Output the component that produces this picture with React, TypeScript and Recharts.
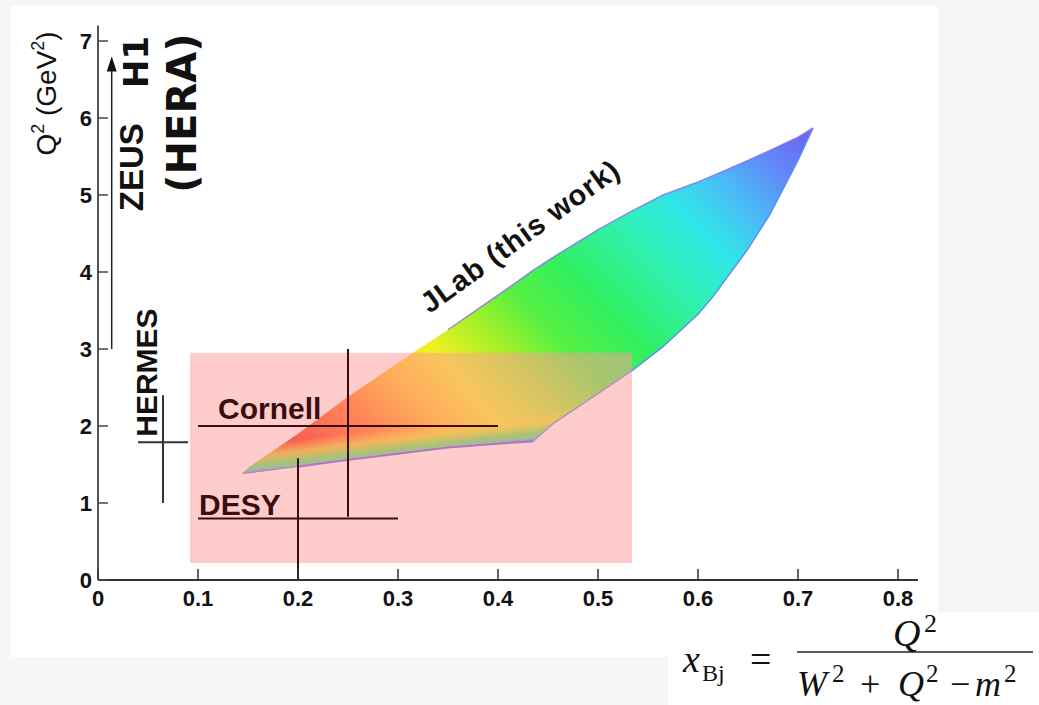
import React from "react";
import {
  ComposedChart,
  Area,
  Line,
  XAxis,
  YAxis,
  ReferenceArea,
  ReferenceLine,
  ReferenceDot,
} from "recharts";

// JLab coverage envelope (x_Bj vs Q^2 upper / lower edge)
const xBj = [0.144, 0.152, 0.2, 0.25, 0.3, 0.35, 0.4, 0.435, 0.455, 0.5, 0.535, 0.565, 0.6, 0.615, 0.65, 0.672, 0.7, 0.715];
const q2Upper = [1.38, 1.47, 1.9, 2.38, 2.82, 3.25, 3.7, 4.02, 4.19, 4.55, 4.8, 5.0, 5.17, 5.25, 5.45, 5.58, 5.75, 5.87];
const q2Lower = [1.38, 1.39, 1.47, 1.56, 1.64, 1.72, 1.77, 1.8, 2.03, 2.42, 2.73, 3.03, 3.45, 3.68, 4.3, 4.75, 5.45, 5.87];

const xTicks = [0, 0.1, 0.2, 0.3, 0.4, 0.5, 0.6, 0.7, 0.8];
const yTicks = [0, 1, 2, 3, 4, 5, 6, 7];

// older experiments: crosshair centre and extent
const expNames = ["Cornell", "DESY", "HERMES"];
const expX = [0.25, 0.2, 0.065];
const expXRange = [[0.1, 0.4], [0.1, 0.3], [0.04, 0.09]];
const expQ2 = [2.0, 0.8, 1.79];
const expQ2Range = [[0.82, 3.0], [0, 1.58], [1.0, 2.4]];

// HERA arrow (ZEUS, H1)
const heraX = 0.0137;
const heraQ2 = [3.0, 6.8];

// shaded box
const boxX = [0.092, 0.534];
const boxQ2 = [0.22, 2.95];

const rows = xBj.map((x, i) => ({
  x,
  cover: [q2Lower[i], q2Upper[i]],
  lowEdge: x >= 0.17 && x <= 0.435 ? q2Lower[i] : null,
  rightEdge: x >= 0.435 ? q2Lower[i] : null,
  topEdge: x >= 0.33 ? q2Upper[i] : null,
}));

const SANS = "'Liberation Sans', Arial, sans-serif";
const DARK = "#3a0e0e";

const XTick = (props: any) => {
  const { x, y, payload } = props;
  return (
    <g>
      <line x1={x} x2={x} y1={y - 9} y2={y - 20} stroke="#333" strokeWidth={1.5} />
      <text x={x} y={y} dy={17} textAnchor="middle" fontFamily={SANS} fontWeight="bold" fontSize={22} fill="#111">
        {payload.value}
      </text>
    </g>
  );
};

const YTick = (props: any) => {
  const { x, y, payload } = props;
  return (
    <g>
      <line x1={x + 6} x2={x + 16} y1={y} y2={y} stroke="#444" strokeWidth={1.5} />
      <text x={x} y={y} dy={8} textAnchor="end" fontFamily={SANS} fontWeight="bold" fontSize={22} fill="#111">
        {payload.value}
      </text>
    </g>
  );
};

const QLabel = (props: any) => {
  const vb = props.viewBox || { x: 38, y: 25.6 };
  const bx = vb.x + 18;
  const by = vb.y + 130;
  return (
    <text x={bx} y={by} transform={`rotate(-90 ${bx} ${by})`} fontFamily={SANS} fontSize={28} fill="#111">
      Q<tspan dy={-12} fontSize={18}>2</tspan>
      <tspan dy={12}> (GeV</tspan>
      <tspan dy={-12} fontSize={18}>2</tspan>
      <tspan dy={12}>)</tspan>
    </text>
  );
};

const textShape =
  (label: string, opts: { size: number; angle?: number; anchor?: string; color?: string; family?: string; spacing?: number }) =>
  (p: any) => {
    const { cx, cy } = p;
    return (
      <text
        x={cx}
        y={cy}
        transform={opts.angle ? `rotate(${opts.angle} ${cx} ${cy})` : undefined}
        textAnchor={opts.anchor || "start"}
        fontFamily={opts.family || SANS}
        fontWeight="bold"
        fontSize={opts.size}
        letterSpacing={opts.spacing || 0}
        fill={opts.color || "#111"}
      >
        {label}
      </text>
    );
  };

const arrowHead = (p: any) => (
  <path d={`M${p.cx},${p.cy} L${p.cx - 5},${p.cy + 15} L${p.cx + 5},${p.cy + 15} Z`} fill="#111" />
);

function Formula() {
  const serif = "'Liberation Serif', 'Times New Roman', serif";
  return (
    <svg width={371} height={105} style={{ position: "absolute", left: 668, top: 600 }}>
      <rect y={12} width={371} height={93} fill="#fff" />
      <g fontFamily={serif} fill="#111">
        <text x={15} y={72} fontSize={38} fontStyle="italic">x</text>
        <text x={34} y={81} fontSize={24}>Bj</text>
        <text x={82} y={72} fontSize={38}>=</text>
        <line x1={129} x2={365} y1={52} y2={52} stroke="#222" strokeWidth={1.5} />
        <text x={225} y={46} fontSize={38} fontStyle="italic">Q</text>
        <text x={256} y={32} fontSize={26}>2</text>
        <text x={129} y={96} fontSize={36} fontStyle="italic">W</text>
        <text x={164} y={82} fontSize={25}>2</text>
        <text x={192} y={96} fontSize={36}>+</text>
        <text x={230} y={96} fontSize={36} fontStyle="italic">Q</text>
        <text x={258} y={82} fontSize={25}>2</text>
        <text x={282} y={96} fontSize={36}>−</text>
        <text x={307} y={96} fontSize={36} fontStyle="italic">m</text>
        <text x={336} y={82} fontSize={25}>2</text>
      </g>
    </svg>
  );
}

export default function App() {
  return (
    <div style={{ position: "absolute", left: 0, top: 0, width: 1039, height: 705, background: "#f6f6f6", overflow: "hidden" }}>
      <div style={{ position: "absolute", left: 11, top: 6, width: 927, height: 651, background: "#fff" }} />
      <Formula />
      <div style={{ position: "absolute", left: 0, top: 0 }}>
        <ComposedChart width={1039} height={705} data={rows} margin={{ top: 25.6, right: 121, bottom: 65, left: 38 }}>
          <defs>
            <linearGradient id="covGrad" gradientUnits="userSpaceOnUse" x1={240} y1={470} x2={708} y2={21}>
              <stop offset="0" stopColor="#e00c06" />
              <stop offset="0.09" stopColor="#ee1e0c" />
              <stop offset="0.18" stopColor="#ff6a16" />
              <stop offset="0.26" stopColor="#ffb81e" />
              <stop offset="0.34" stopColor="#f2f020" />
              <stop offset="0.42" stopColor="#a8f028" />
              <stop offset="0.49" stopColor="#58f040" />
              <stop offset="0.58" stopColor="#30f060" />
              <stop offset="0.69" stopColor="#30f0b4" />
              <stop offset="0.77" stopColor="#30e6e8" />
              <stop offset="0.85" stopColor="#4cb8f8" />
              <stop offset="0.92" stopColor="#6088f8" />
              <stop offset="1" stopColor="#7060f0" />
            </linearGradient>
            <linearGradient id="fringeGrad" gradientUnits="userSpaceOnUse" x1={386.8} y1={429} x2={390} y2={457}>
              <stop offset="0" stopColor="#f4e81e" stopOpacity={0} />
              <stop offset="0.4" stopColor="#e0f024" stopOpacity={0.75} />
              <stop offset="0.72" stopColor="#5ee848" stopOpacity={1} />
              <stop offset="0.9" stopColor="#40e0a0" stopOpacity={1} />
              <stop offset="1" stopColor="#6060e8" stopOpacity={1} />
            </linearGradient>
          </defs>
          <XAxis
            type="number"
            dataKey="x"
            domain={[0, 0.82]}
            ticks={xTicks}
            height={60}
            tickSize={0}
            tickMargin={9}
            tickLine={false}
            tick={<XTick />}
            axisLine={{ stroke: "#333", strokeWidth: 2 }}
            allowDataOverflow
          />
          <YAxis
            type="number"
            domain={[0, 7.2]}
            ticks={yTicks}
            width={60}
            tickSize={0}
            tickMargin={6}
            tickLine={false}
            tick={<YTick />}
            axisLine={{ stroke: "#555", strokeWidth: 2 }}
            allowDataOverflow
            label={{ content: (p: any) => <QLabel {...p} /> }}
          />
          <Area type="linear" dataKey="cover" stroke="none" fill="url(#covGrad)" fillOpacity={1} isAnimationActive={false} zIndex={100} />
          <Area type="linear" dataKey="cover" stroke="none" fill="url(#fringeGrad)" fillOpacity={1} isAnimationActive={false} zIndex={110} />
          <Line type="linear" dataKey="lowEdge" stroke="#6650e6" strokeWidth={2} dot={false} isAnimationActive={false} zIndex={120} />
          <Line type="linear" dataKey="rightEdge" stroke="#5a90f0" strokeWidth={1.5} dot={false} isAnimationActive={false} zIndex={120} />
          <Line type="linear" dataKey="topEdge" stroke="#8070f0" strokeWidth={1.5} strokeOpacity={0.8} dot={false} isAnimationActive={false} zIndex={120} />

          <ReferenceArea x1={boxX[0]} x2={boxX[1]} y1={boxQ2[0]} y2={boxQ2[1]} fill="#ff9a9a" fillOpacity={0.5} stroke="none" zIndex={200} />

          {expNames.map((name, i) => (
            <ReferenceLine
              key={name + "h"}
              segment={[{ x: expXRange[i][0], y: expQ2[i] }, { x: expXRange[i][1], y: expQ2[i] }]}
              stroke={i < 2 ? DARK : "#333"}
              strokeWidth={2}
              zIndex={300}
            />
          ))}
          {expNames.map((name, i) => (
            <ReferenceLine
              key={name + "v"}
              segment={[{ x: expX[i], y: expQ2Range[i][0] }, { x: expX[i], y: expQ2Range[i][1] }]}
              stroke={i < 2 ? DARK : "#333"}
              strokeWidth={2}
              zIndex={300}
            />
          ))}
          <ReferenceLine segment={[{ x: heraX, y: heraQ2[0] }, { x: heraX, y: heraQ2[1] - 0.15 }]} stroke="#222" strokeWidth={1.5} zIndex={300} />
          <ReferenceDot x={heraX} y={heraQ2[1]} r={1} shape={arrowHead} zIndex={400} />

          <ReferenceDot x={0.12} y={2.09} r={1} shape={textShape("Cornell", { size: 30, color: DARK })} zIndex={400} />
          <ReferenceDot x={0.101} y={0.84} r={1} shape={textShape("DESY", { size: 30, color: DARK })} zIndex={400} />
          <ReferenceDot x={0.059} y={1.86} r={1} shape={textShape("HERMES", { size: 30, angle: -90 })} zIndex={400} />
          <ReferenceDot x={0.045} y={4.79} r={1} shape={textShape("ZEUS", { size: 33, angle: -90 })} zIndex={400} />
          <ReferenceDot x={0.05} y={6.39} r={1} shape={textShape("H1", { size: 34, angle: -90, family: "'DejaVu Sans', sans-serif" })} zIndex={400} />
          <ReferenceDot x={0.098} y={5.03} r={1} shape={textShape("(HERA)", { size: 40, angle: -90, family: "'DejaVu Sans', sans-serif" })} zIndex={400} />
          <ReferenceDot x={0.428} y={4.36} r={1} shape={textShape("JLab (this work)", { size: 29, angle: -36, anchor: "middle", spacing: 1 })} zIndex={400} />
        </ComposedChart>
      </div>
    </div>
  );
}
